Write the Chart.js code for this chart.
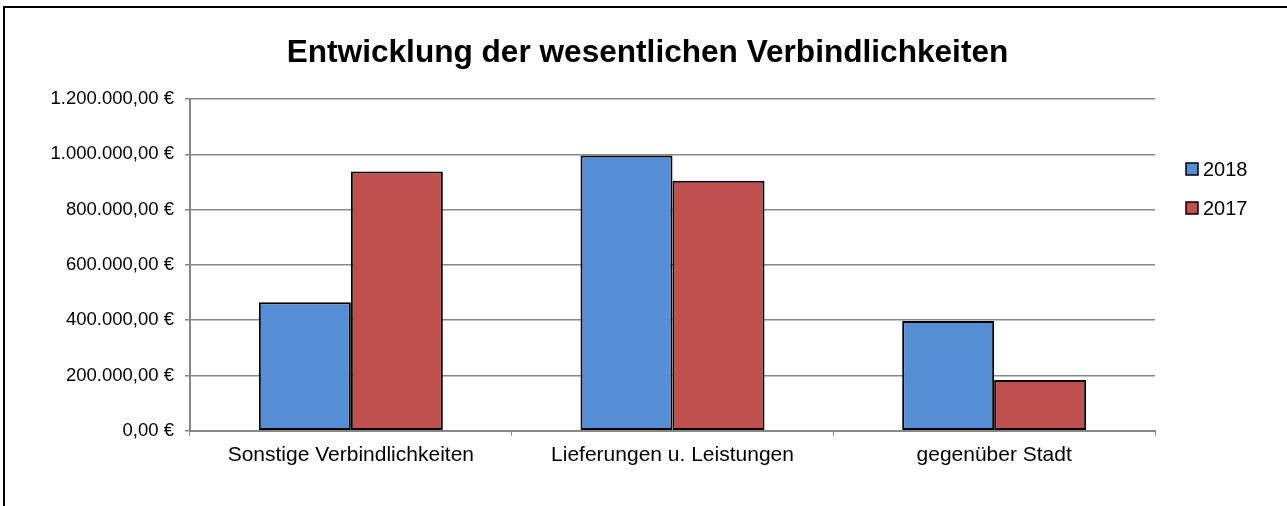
<!DOCTYPE html>
<html>
<head>
<meta charset="utf-8">
<script src="https://cdn.jsdelivr.net/npm/chart.js@4.4.1/dist/chart.umd.min.js"></script>
<style>
  html, body { margin: 0; padding: 0; background: #fff; }
  .frame {
    position: absolute; left: 3px; top: 6px;
    width: 1400px; height: 600px;
    border: 2px solid #000;
  }
  .chart-box { position: absolute; left: 0; top: 0; width: 1287px; height: 506px; }
</style>
</head>
<body>
<div class="frame"></div>
<div class="chart-box"><canvas id="chart" width="1287" height="506"></canvas></div>
<script>
const categories = ['Sonstige Verbindlichkeiten', 'Lieferungen u. Leistungen', 'gegenüber Stadt'];
const values2018 = [465000, 996000, 397000];
const values2017 = [938000, 904000, 184000];
const yTicks = [0, 200000, 400000, 600000, 800000, 1000000, 1200000];
const chartTitle = 'Entwicklung der wesentlichen Verbindlichkeiten';

const BLUE = '#558ED5';
const RED = '#C0504D';
const GRID = '#878787';
const FONT = "'Liberation Sans', Arial, sans-serif";

// 1.200.000,00 € style
const euro = (v) => v.toLocaleString('de-DE', { minimumFractionDigits: 2, maximumFractionDigits: 2 }) + ' €';

// title centred on the whole canvas (not just the plot), like Excel does it
const pageTitle = {
  id: 'pageTitle',
  afterDraw(chart) {
    const ctx = chart.ctx;
    ctx.save();
    ctx.font = 'bold 31.6px ' + FONT;
    ctx.fillStyle = '#000';
    ctx.textAlign = 'center';
    ctx.textBaseline = 'middle';
    ctx.fillText(chartTitle, chart.width / 2 + 4, 53);
    ctx.restore();
  }
};

// legend on the right, drawn by hand to match the Excel look
const sideLegend = {
  id: 'sideLegend',
  afterDraw(chart) {
    const ctx = chart.ctx;
    const x = chart.chartArea.right + 31;
    const startY = 169;
    const step = 39;
    ctx.save();
    ctx.font = '20px ' + FONT;
    ctx.textBaseline = 'middle';
    chart.data.datasets.forEach((ds, i) => {
      const y = startY + i * step;
      ctx.fillStyle = ds.backgroundColor;
      ctx.fillRect(x, y - 6, 12, 12);
      ctx.strokeStyle = '#000';
      ctx.lineWidth = 1.5;
      ctx.strokeRect(x, y - 6, 12, 12);
      ctx.fillStyle = '#000';
      ctx.fillText(ds.label, x + 17, y + 1);
    });
    ctx.restore();
  }
};

new Chart(document.getElementById('chart'), {
  type: 'bar',
  data: {
    labels: categories,
    datasets: [
      { label: '2018', data: values2018, backgroundColor: BLUE },
      { label: '2017', data: values2017, backgroundColor: RED }
    ]
  },
  options: {
    responsive: false,
    animation: false,
    layout: { padding: { left: 0, right: 132, top: 99, bottom: 31 } },
    datasets: {
      bar: {
        borderColor: '#000',
        borderWidth: 2,
        borderSkipped: false,
        barPercentage: 1,
        categoryPercentage: 0.572
      }
    },
    plugins: {
      legend: { display: false },
      tooltip: { enabled: false },
      title: { display: false }
    },
    scales: {
      x: {
        grid: {
          drawOnChartArea: false,
          drawTicks: true,
          tickLength: 5,
          color: GRID,
          offset: true
        },
        border: { color: GRID, width: 2 },
        ticks: {
          color: '#000',
          font: { family: FONT, size: 21 },
          padding: 7,
          maxRotation: 0
        }
      },
      y: {
        min: 0,
        max: 1200000,
        afterBuildTicks: (scale) => { scale.ticks = yTicks.map(v => ({ value: v })); },
        afterFit: (scale) => { scale.width = 190; },
        grid: { color: GRID, lineWidth: 1.5, tickLength: 5 },
        border: { color: GRID, width: 2 },
        ticks: {
          color: '#000',
          font: { family: FONT, size: 18.5 },
          padding: 11,
          callback: (v) => euro(v)
        }
      }
    }
  },
  plugins: [pageTitle, sideLegend]
});
</script>
</body>
</html>
